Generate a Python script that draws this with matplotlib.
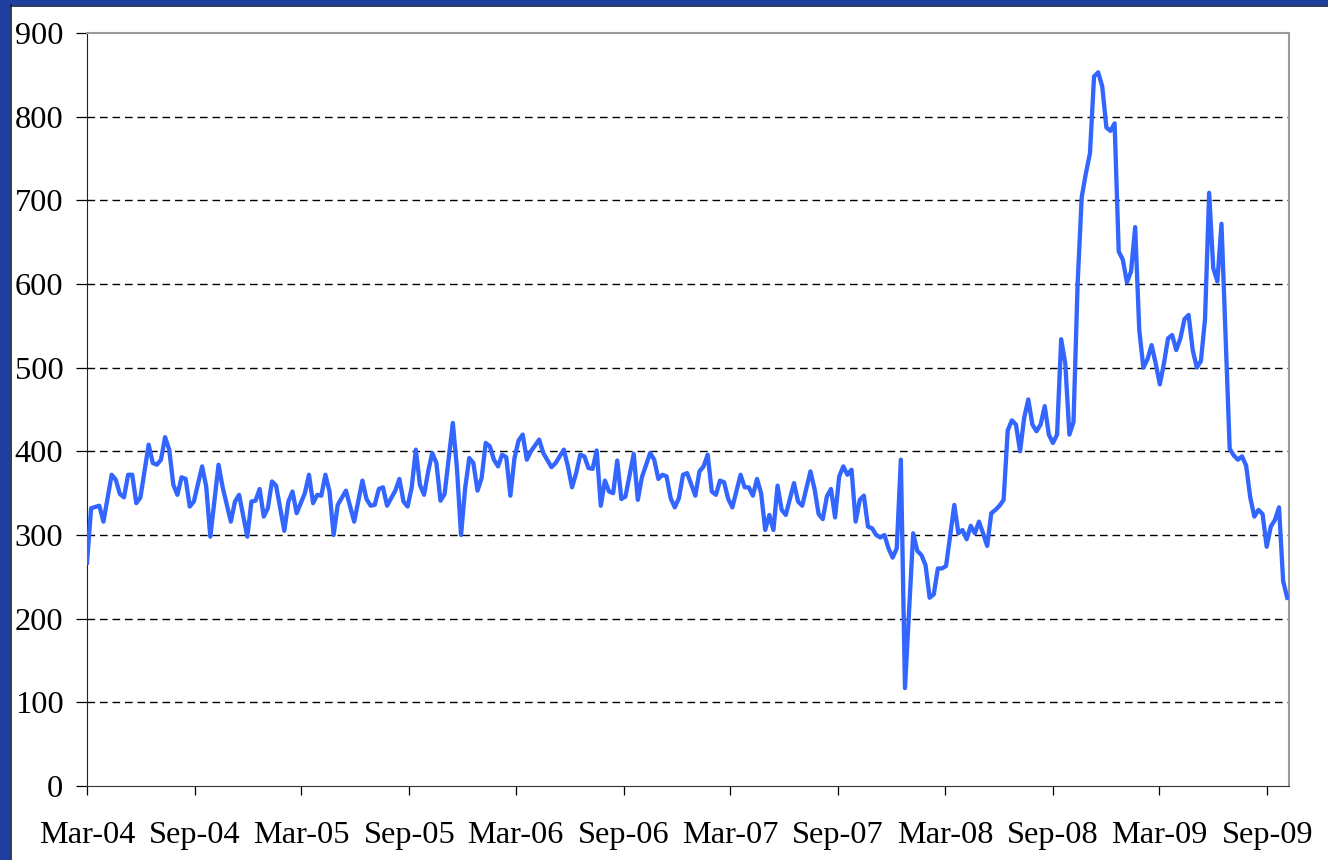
import numpy as np
import matplotlib
matplotlib.use("Agg")
import matplotlib.pyplot as plt
import matplotlib.dates as mdates
from matplotlib.patches import Rectangle
from matplotlib.lines import Line2D

# weekly series, week index counted from 1-Mar-2004
weeks = [0, 1, 3, 4, 6, 7, 8, 9, 10, 11, 12, 13, 15, 16, 17, 18, 19, 20, 21, 22,
         23, 24, 25, 26, 28, 29, 30, 32, 33, 35, 36, 37, 39, 40, 41, 42, 43, 44, 45, 46,
         48, 49, 50, 51, 53, 54, 55, 56, 57, 58, 59, 60, 61, 63, 65, 67, 68, 69, 70, 71,
         72, 73, 75, 76, 77, 78, 79, 80, 81, 82, 83, 84, 85, 86, 87, 89, 90, 91, 92, 93,
         94, 95, 96, 97, 98, 99, 100, 101, 102, 103, 104, 105, 106, 107, 108, 110, 111, 113, 114, 116,
         117, 118, 119, 120, 121, 122, 123, 124, 125, 126, 127, 128, 129, 130, 131, 133, 134, 135, 137, 138,
         139, 140, 141, 142, 143, 144, 145, 146, 148, 149, 150, 151, 152, 153, 154, 155, 156, 157, 159, 160,
         161, 162, 163, 164, 165, 166, 167, 168, 169, 170, 172, 173, 174, 176, 177, 178, 179, 180, 181, 182,
         183, 184, 185, 186, 187, 188, 189, 190, 191, 192, 193, 194, 195, 196, 197, 198, 199, 201, 202, 203,
         204, 205, 206, 207, 208, 209, 211, 212, 213, 214, 215, 216, 217, 218, 219, 220, 221, 222, 223, 224,
         225, 226, 227, 228, 229, 230, 231, 232, 233, 234, 235, 236, 237, 238, 239, 240, 241, 242, 243, 244,
         245, 246, 247, 248, 249, 250, 251, 252, 253, 254, 255, 256, 257, 258, 259, 260, 261, 262, 263, 264,
         265, 266, 267, 268, 269, 270, 271, 272, 273, 274, 275, 276, 278, 279, 280, 281, 282, 283, 284, 285,
         286, 287, 288, 289, 290, 291, 292]

values = [267, 332, 335, 316, 372, 366, 349, 345, 372, 372, 338, 345, 408, 386, 384, 390, 417, 402, 360, 348,
          369, 367, 334, 340, 382, 358, 298, 384, 357, 316, 340, 348, 298, 340, 341, 355, 322, 332, 364, 359,
          305, 340, 352, 326, 350, 372, 338, 348, 347, 372, 352, 300, 336, 353, 316, 365, 343, 335, 336, 355,
          357, 335, 353, 367, 340, 334, 357, 402, 360, 348, 376, 398, 386, 341, 349, 434, 380, 300, 356, 392,
          386, 353, 368, 410, 406, 390, 382, 396, 393, 347, 392, 413, 420, 390, 400, 414, 398, 381, 386, 402,
          382, 357, 374, 396, 394, 380, 379, 401, 335, 365, 352, 350, 389, 343, 346, 397, 342, 369, 398, 390,
          367, 372, 370, 344, 333, 344, 372, 374, 347, 376, 382, 396, 352, 348, 365, 363, 343, 333, 372, 357,
          357, 347, 367, 350, 306, 324, 306, 359, 330, 324, 362, 340, 335, 376, 355, 325, 319, 346, 355, 321,
          370, 382, 372, 378, 316, 342, 347, 310, 308, 300, 297, 300, 284, 273, 284, 390, 117, 302, 281, 276,
          264, 225, 229, 260, 260, 263, 336, 302, 306, 295, 311, 302, 316, 302, 287, 326, 330, 335, 342, 425,
          437, 432, 400, 440, 462, 432, 424, 432, 454, 420, 410, 420, 534, 505, 420, 435, 600, 704, 732, 756,
          848, 853, 836, 787, 783, 792, 639, 629, 602, 615, 668, 545, 500, 510, 527, 505, 480, 505, 535, 539,
          521, 535, 558, 563, 521, 500, 508, 558, 709, 619, 603, 672, 403, 395, 390, 394, 383, 345, 322, 330,
          325, 286, 310, 318, 333, 245, 225]

start = np.datetime64("2004-03-01")
dates = start + np.array(weeks) * np.timedelta64(7, "D")

plt.rcParams["font.family"] = ["Liberation Serif", "DejaVu Serif"]

fig = plt.figure(figsize=(13.28, 8.6), dpi=100)
fig.patch.set_facecolor("white")

# blue slide frame on the left and top
W, H = 1328.0, 860.0
fig.patches.append(Rectangle((0, 0), 10 / W, 1, transform=fig.transFigure,
                             facecolor="#1f3fa0", edgecolor="none", zorder=0))
fig.patches.append(Rectangle((0, 1 - 5 / H), 1, 5 / H, transform=fig.transFigure,
                             facecolor="#1f3fa0", edgecolor="none", zorder=0))
fig.lines.append(Line2D([10.5 / W, 10.5 / W], [0, 1 - 5 / H], transform=fig.transFigure,
                        color="#0b1640", lw=1.2))
fig.lines.append(Line2D([10.5 / W, 1], [1 - 5.5 / H, 1 - 5.5 / H], transform=fig.transFigure,
                        color="#0b1640", lw=1.2))

ax = fig.add_axes([87 / W, (860 - 786) / H, (1289 - 87) / W, (786 - 33) / H])
ax.plot(dates, values, color="#3366ff", lw=3.1, solid_joinstyle="round", zorder=3)

ax.set_ylim(0, 900)
ax.set_yticks(range(0, 901, 100))
ax.set_xlim(start, start + np.timedelta64(int(292.5 * 7), "D"))
ax.xaxis.set_major_locator(mdates.MonthLocator(bymonth=(3, 9), bymonthday=1))
ax.xaxis.set_major_formatter(mdates.DateFormatter("%b-%y"))

for y in range(100, 900, 100):
    ax.axhline(y, color="black", lw=1.0, linestyle=(0, (5.5, 3.5)), zorder=1)

ax.spines["top"].set_color("#9a9a9a")
ax.spines["right"].set_color("#9a9a9a")
ax.spines["top"].set_linewidth(1.5)
ax.spines["right"].set_linewidth(1.5)
ax.spines["left"].set_color("#222222")
ax.spines["bottom"].set_color("#333333")

ax.tick_params(axis="y", direction="out", length=8, width=0.9, pad=9, labelsize=23.3)
ax.tick_params(axis="x", direction="out", length=6.5, width=0.9, pad=19, labelsize=23.3)

fig.savefig("out.png", dpi=100)
